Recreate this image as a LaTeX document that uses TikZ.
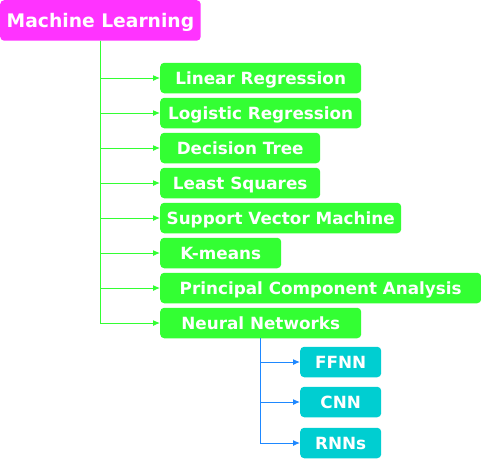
\documentclass[tikz,border=0pt]{standalone}
\usepackage{fontspec}
\setmainfont{DejaVu Sans}
\usetikzlibrary{arrows.meta}
\definecolor{mlpink}{HTML}{FF33FF}
\definecolor{mlgreen}{HTML}{33FF33}
\definecolor{mlcyan}{HTML}{00CED1}
\definecolor{mlblue}{HTML}{1E88FF}

\begin{document}
\begin{tikzpicture}[x=1pt,y=-1pt,
  box/.style={rounded corners=4pt, text=white, inner sep=0pt, minimum height=30.5pt,
    text height=12.3pt, text depth=0pt, font=\bfseries\fontsize{16.8}{18}\selectfont},
  algo/.style={box, fill=mlgreen, anchor=west},
  net/.style={box, fill=mlcyan, anchor=west},
  greenlink/.style={draw=mlgreen, line width=1pt, -{Latex[length=7pt,width=6pt]}},
  bluelink/.style={draw=mlblue, line width=1pt, -{Latex[length=7pt,width=6pt]}}]
\useasboundingbox (0,0) rectangle (481,459);
\node[box, fill=mlpink, anchor=north west, minimum width=200.5pt, minimum height=40.5pt,
  text height=13.6pt, font=\bfseries\fontsize{18.7}{20}\selectfont] (ml) at (0,0) {Machine Learning};

\node[algo, minimum width=201pt] (lr)  at (160,78)  {Linear Regression};
\node[algo, minimum width=201pt] (lgr) at (160,113) {Logistic Regression};
\node[algo, minimum width=160pt] (dt)  at (160,148) {Decision Tree};
\node[algo, minimum width=160pt] (ls)  at (160,183) {Least Squares};
\node[algo, minimum width=241pt] (svm) at (160,218) {Support Vector Machine};
\node[algo, minimum width=121pt] (km)  at (160,253) {K-means};
\node[algo, minimum width=321pt] (pca) at (160,288) {Principal Component Analysis};
\node[algo, minimum width=201pt] (nn)  at (160,323) {Neural Networks};

\node[net, minimum width=81pt] (ffnn) at (300,362) {FFNN};
\node[net, minimum width=81pt] (cnn)  at (300,402) {CNN};
\node[net, minimum width=81pt] (rnn)  at (300,443) {RNNs};

\foreach \child in {lr,lgr,dt,ls,svm,km,pca,nn}
  \draw[greenlink] (ml.south) |- (\child.west);
\foreach \child in {ffnn,cnn,rnn}
  \draw[bluelink] (nn.south) |- (\child.west);
\end{tikzpicture}
\end{document}
